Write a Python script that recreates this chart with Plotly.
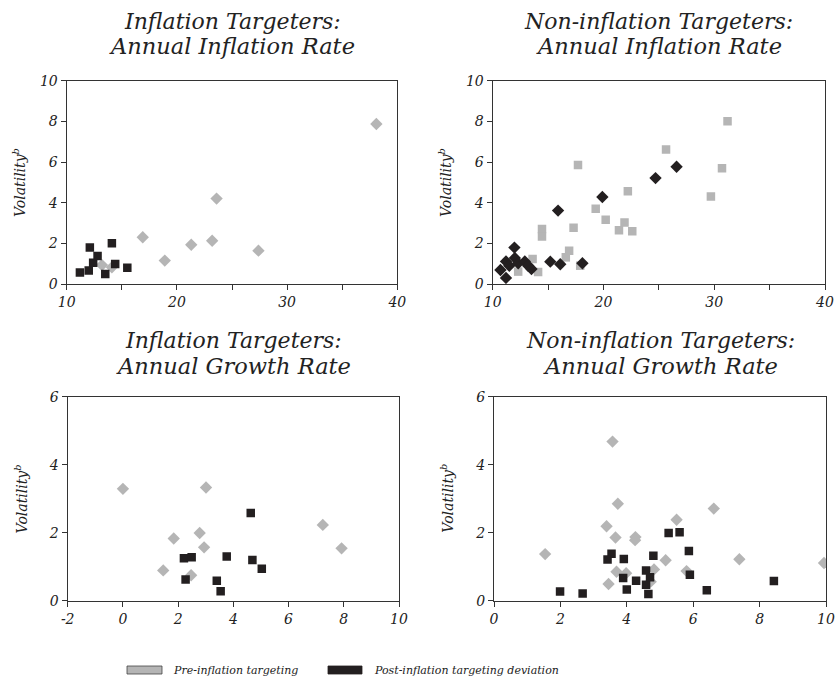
import plotly.graph_objects as go

# ---- Data ----
# Panel 1: Inflation targeters, annual inflation rate
it_inf_pre_x = [38.1, 23.6, 16.9, 21.3, 23.2, 27.4, 18.9, 13.2, 14.1]
it_inf_pre_y = [7.87, 4.2, 2.3, 1.93, 2.13, 1.64, 1.15, 0.93, 0.82]
it_inf_post_x = [11.2, 12.1, 12.0, 12.4, 12.8, 14.1, 14.4, 13.5, 15.5]
it_inf_post_y = [0.57, 1.79, 0.67, 1.05, 1.38, 2.0, 0.98, 0.49, 0.80]

# Panel 2: Non-inflation targeters, annual inflation rate
nit_inf_pre_x = [31.2, 25.65, 17.7, 30.7, 29.7, 22.2, 19.3, 20.2, 21.9, 21.4, 22.6, 17.3,
                 14.45, 14.45, 16.9, 16.6, 13.6, 14.1, 12.3, 17.9]
nit_inf_pre_y = [8.0, 6.62, 5.85, 5.69, 4.31, 4.56, 3.70, 3.16, 3.02, 2.64, 2.59, 2.77,
                 2.7, 2.34, 1.64, 1.31, 1.23, 0.59, 0.61, 0.90]
nit_inf_post_x = [26.6, 24.7, 19.9, 15.9, 11.96, 12.0, 11.2, 11.5, 10.7, 11.2, 12.3, 12.9,
                  13.2, 13.5, 15.2, 16.1, 18.1]
nit_inf_post_y = [5.77, 5.21, 4.28, 3.61, 1.79, 1.28, 1.11, 0.90, 0.69, 0.30, 1.02, 1.11,
                  0.90, 0.74, 1.10, 0.97, 1.02]

# Panel 3: Inflation targeters, annual growth rate
it_gr_pre_x = [0.0, 3.01, 1.84, 2.78, 2.94, 1.46, 2.47, 7.24, 7.92]
it_gr_pre_y = [3.29, 3.33, 1.83, 1.99, 1.57, 0.89, 0.75, 2.23, 1.54]
it_gr_post_x = [4.63, 2.21, 2.49, 3.76, 4.69, 5.03, 2.27, 3.40, 3.54]
it_gr_post_y = [2.58, 1.25, 1.28, 1.30, 1.20, 0.94, 0.62, 0.59, 0.28]

# Panel 4: Non-inflation targeters, annual growth rate
nit_gr_pre_x = [3.57, 3.73, 6.62, 3.39, 5.50, 3.66, 4.26, 4.25, 1.54, 5.17, 7.39, 9.94,
                4.82, 5.80, 3.69, 3.98, 3.45, 4.72]
nit_gr_pre_y = [4.68, 2.85, 2.71, 2.19, 2.38, 1.86, 1.87, 1.78, 1.37, 1.19, 1.22, 1.11,
                0.92, 0.87, 0.85, 0.81, 0.49, 0.56]
nit_gr_post_x = [5.26, 5.59, 5.87, 4.80, 3.54, 3.42, 3.91, 3.89, 4.00, 4.28, 4.58, 4.58,
                 4.70, 4.65, 5.90, 6.41, 8.43, 1.99, 2.67]
nit_gr_post_y = [1.99, 2.01, 1.46, 1.32, 1.38, 1.21, 1.23, 0.67, 0.33, 0.59, 0.89, 0.47,
                 0.69, 0.20, 0.76, 0.31, 0.58, 0.27, 0.21]

titles = [
    ["Inflation Targeters:", "Annual Inflation Rate"],
    ["Non-inflation Targeters:", "Annual Inflation Rate"],
    ["Inflation Targeters:", "Annual Growth Rate"],
    ["Non-inflation Targeters:", "Annual Growth Rate"],
]
legend_labels = ["Pre-inflation targeting", "Post-inflation targeting deviation"]
y_title = "Volatility<sup>b</sup>"
growth_it_ticks = [-2, 0, 2, 4, 6, 8, 10]
growth_it_ticktext = ["-2", "0", "2", "4", "6", "8", "10"]

GRAY = "#b5b5b5"
BLACK = "#231f20"
FONT = "DejaVu Serif"

W, H = 835, 679

fig = go.Figure()

# panel geometry in pixels (left, right, top, bottom)
panels = [
    (66.7, 397.3, 80.7, 284.0),
    (492.7, 825.0, 80.7, 284.0),
    (67.7, 399.0, 396.7, 600.7),
    (494.0, 826.0, 396.7, 600.7),
]
title_rows = [(21, 46), (21, 46), (340, 366), (340, 366)]

def xd(l, r):
    return [l / W, r / W]

def yd(t, b):
    return [1 - b / H, 1 - t / H]

series = [
    (it_inf_pre_x, it_inf_pre_y, "diamond", GRAY, it_inf_post_x, it_inf_post_y, "square", BLACK),
    (nit_inf_pre_x, nit_inf_pre_y, "square", GRAY, nit_inf_post_x, nit_inf_post_y, "diamond", BLACK),
    (it_gr_pre_x, it_gr_pre_y, "diamond", GRAY, it_gr_post_x, it_gr_post_y, "square", BLACK),
    (nit_gr_pre_x, nit_gr_pre_y, "diamond", GRAY, nit_gr_post_x, nit_gr_post_y, "square", BLACK),
]

def msize(sym):
    return 8.5 if sym == "square" else 9.5

for i, (px, py, psym, pcol, qx, qy, qsym, qcol) in enumerate(series):
    n = "" if i == 0 else str(i + 1)
    fig.add_trace(go.Scatter(x=px, y=py, mode="markers", xaxis="x" + n, yaxis="y" + n,
                             marker=dict(symbol=psym, color=pcol, size=msize(psym), line=dict(width=0)),
                             showlegend=False, name=legend_labels[0]))
    fig.add_trace(go.Scatter(x=qx, y=qy, mode="markers", xaxis="x" + n, yaxis="y" + n,
                             marker=dict(symbol=qsym, color=qcol, size=msize(qsym), line=dict(width=0)),
                             showlegend=False, name=legend_labels[1]))

axis_line = dict(showline=True, linecolor="#333333", linewidth=1.3, mirror=True,
                 showgrid=False, zeroline=False, ticks="outside", ticklen=5,
                 tickcolor="#333333", tickwidth=1.2, automargin=False,
                 tickfont=dict(family=FONT, size=14, style="italic", color="#222"))

layout = dict(width=W, height=H, margin=dict(l=0, r=0, t=0, b=0, autoexpand=False),
              paper_bgcolor="white", plot_bgcolor="white", showlegend=False)

minor5 = dict(dtick=5, tick0=0, ticks="outside", ticklen=5, tickwidth=1.2, tickcolor="#333333", showgrid=False)
x_cfg = [
    dict(range=[10, 40], tickmode="linear", tick0=10, dtick=10, minor=minor5),
    dict(range=[10, 40], tickmode="linear", tick0=10, dtick=10, minor=minor5),
    dict(range=[-2, 10], tickmode="array", tickvals=growth_it_ticks, ticktext=growth_it_ticktext),
    dict(range=[0, 10], tickmode="linear", tick0=0, dtick=2),
]
y_cfg = [
    dict(range=[0, 10], tickmode="linear", tick0=0, dtick=2),
    dict(range=[0, 10], tickmode="linear", tick0=0, dtick=2),
    dict(range=[0, 6], tickmode="linear", tick0=0, dtick=2),
    dict(range=[0, 6], tickmode="linear", tick0=0, dtick=2),
]

annotations = []
for i, (l, r, t, b) in enumerate(panels):
    n = "" if i == 0 else str(i + 1)
    xa = dict(axis_line, domain=xd(l, r), anchor="y" + n, **x_cfg[i])
    ya = dict(axis_line, domain=yd(t, b), anchor="x" + n, **y_cfg[i])
    layout["xaxis" + n] = xa
    layout["yaxis" + n] = ya
    cx = (l + r) / 2 / W
    r1, r2 = title_rows[i]
    annotations.append(dict(text=titles[i][0], x=cx, y=1 - r1 / H, xref="paper", yref="paper",
                            showarrow=False, xanchor="center", yanchor="middle",
                            font=dict(family=FONT, size=22, style="italic", color="#222")))
    annotations.append(dict(text=titles[i][1], x=cx, y=1 - r2 / H, xref="paper", yref="paper",
                            showarrow=False, xanchor="center", yanchor="middle",
                            font=dict(family=FONT, size=22.5, style="italic", color="#222")))
    # y-axis title
    annotations.append(dict(text=y_title, x=(l - 47) / W, y=1 - ((t + b) / 2) / H, xref="paper", yref="paper",
                            showarrow=False, xanchor="center", yanchor="middle", textangle=-90,
                            font=dict(family=FONT, size=14, style="italic", color="#222")))

# legend (drawn as shapes + text)
shapes = [
    dict(type="rect", xref="paper", yref="paper", x0=127 / W, x1=162 / W, y0=1 - 674 / H, y1=1 - 666 / H,
         fillcolor=GRAY, line=dict(color="#444", width=0.8)),
    dict(type="rect", xref="paper", yref="paper", x0=328 / W, x1=362 / W, y0=1 - 674 / H, y1=1 - 666 / H,
         fillcolor=BLACK, line=dict(color=BLACK, width=0.8)),
]
annotations.append(dict(text=legend_labels[0], x=171 / W, y=1 - 670 / H, xref="paper", yref="paper",
                        showarrow=False, xanchor="left", yanchor="middle",
                        font=dict(family=FONT, size=11, style="italic", color="#222")))
annotations.append(dict(text=legend_labels[1], x=372 / W, y=1 - 670 / H, xref="paper", yref="paper",
                        showarrow=False, xanchor="left", yanchor="middle",
                        font=dict(family=FONT, size=11, style="italic", color="#222")))

layout["annotations"] = annotations
layout["shapes"] = shapes
fig.update_layout(**layout)

fig.write_html("out.html", config={"displayModeBar": False},
               post_script="document.body.style.margin='0';document.body.style.overflow='hidden';")
